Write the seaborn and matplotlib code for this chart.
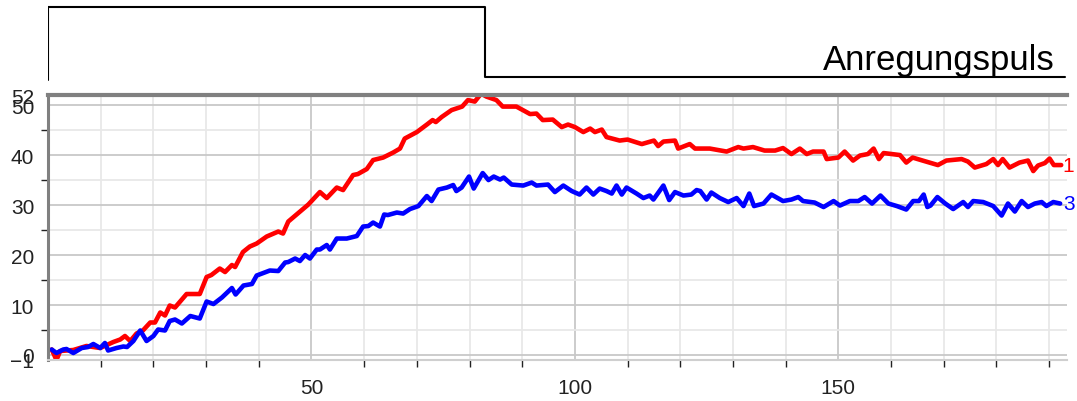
import matplotlib
matplotlib.use("Agg")
from matplotlib import pyplot as plt
import seaborn as sns
import pandas as pd

# Kurve 1 (rot)
x_rot = [0.7, 1.6, 2.3, 4.8, 7.3, 9.9, 12.4, 13.7, 14.6, 15.6, 16.8, 18.0, 19.4, 20.3, 21.3, 22.2,
         23.1, 24.1, 26.3, 28.8, 30.1, 31.0, 32.6, 33.6, 34.9, 35.5, 37.0, 38.3, 39.6, 41.5, 43.7,
         44.6, 45.6, 47.5, 49.4, 51.6, 52.9, 54.8, 56.0, 57.9, 58.8, 60.5, 61.7, 63.6, 65.5, 66.8,
         67.7, 70.0, 71.9, 73.0, 73.6, 74.7, 76.6, 78.6, 79.7, 81.0, 82.2, 83.2, 85.1, 86.3, 88.9,
         91.5, 92.7, 93.9, 95.8, 97.5, 98.7, 100.0, 101.6, 102.9, 103.8, 105.1, 106.0, 108.5, 110.0,
         112.7, 115.0, 115.8, 116.8, 119.0, 119.6, 121.8, 122.8, 125.6, 128.8, 131.0, 132.0, 133.8,
         136.0, 138.0, 139.5, 141.1, 142.7, 144.0, 145.2, 147.2, 147.8, 150.0, 151.2, 152.8, 154.1,
         155.6, 156.7, 157.7, 158.6, 161.7, 162.9, 164.1, 166.0, 168.9, 170.5, 173.4, 174.6, 175.9,
         178.1, 179.4, 180.3, 181.2, 182.5, 184.4, 186.0, 187.0, 187.9, 189.2, 190.1, 190.9, 192.3]
y_rot = [1.1, -1.0, 0.8, 1.0, 1.8, 1.4, 2.6, 3.1, 3.8, 2.8, 4.3, 4.9, 6.5, 6.5, 8.5, 7.9,
         9.9, 9.5, 12.2, 12.2, 15.6, 16.0, 17.3, 16.6, 18.0, 17.6, 20.6, 21.7, 22.3, 23.7, 24.7,
         24.3, 26.7, 28.4, 30.1, 32.6, 31.4, 33.5, 33.0, 36.0, 36.2, 37.2, 39.0, 39.5, 40.5, 41.3,
         43.3, 44.6, 46.1, 47.0, 46.6, 47.6, 49.0, 49.7, 51.0, 50.7, 52.3, 51.7, 51.0, 49.7, 49.7,
         48.2, 48.3, 47.0, 47.1, 45.6, 46.1, 45.6, 44.6, 45.3, 44.6, 45.1, 43.6, 42.9, 43.1,
         42.2, 42.9, 41.8, 42.7, 42.9, 41.3, 42.2, 41.3, 41.3, 40.7, 41.6, 41.3, 41.6,
         40.9, 40.9, 41.4, 40.2, 41.3, 40.2, 40.7, 40.7, 39.2, 39.5, 40.7, 38.9, 39.9,
         40.2, 41.3, 39.2, 40.4, 40.0, 38.5, 39.5, 38.9, 38.0, 38.9, 39.2, 38.7, 37.5,
         38.2, 39.2, 38.0, 39.2, 37.5, 38.5, 38.9, 36.8, 37.9, 38.4, 39.3, 38.0, 38.0]

# Kurve 3 (blau)
x_blau = [0.7, 1.6, 2.9, 3.5, 4.8, 6.4, 7.6, 8.6, 9.9, 10.8, 11.4, 13.0, 14.3, 15.0, 16.2, 17.5,
          18.7, 20.0, 20.9, 22.2, 23.1, 24.1, 25.4, 27.0, 28.8, 30.1, 31.4, 33.0, 34.9, 35.6, 37.1,
          38.7, 39.6, 42.1, 43.7, 45.0, 45.6, 46.9, 47.8, 48.8, 49.7, 51.0, 51.6, 52.9, 53.5, 54.8,
          56.7, 58.6, 59.8, 60.8, 61.7, 63.0, 63.8, 64.5, 66.2, 67.4, 68.7, 70.3, 71.9, 72.8, 74.1,
          75.7, 76.9, 77.5, 78.5, 79.9, 80.8, 82.5, 83.6, 84.6, 85.8, 86.5, 88.0, 90.2, 91.8, 92.7,
          94.9, 96.2, 97.8, 99.4, 100.9, 102.2, 103.5, 104.7, 106.0, 107.0, 107.9, 108.9, 109.8,
          111.7, 113.0, 114.2, 114.9, 116.8, 117.9, 119.0, 120.6, 122.1, 123.1, 123.8, 125.0, 125.9,
          127.5, 129.1, 130.7, 132.0, 133.1, 134.0, 135.8, 137.3, 139.5, 141.1, 142.4, 143.3, 145.5,
          147.2, 149.1, 150.3, 152.2, 153.8, 155.0, 156.4, 158.0, 159.5, 161.1, 162.9, 164.2, 165.3,
          166.2, 166.9, 167.5, 168.8, 170.3, 171.8, 173.7, 174.6, 175.6, 177.5, 179.4, 181.0, 182.2,
          183.5, 184.8, 186.0, 187.3, 188.6, 189.5, 190.8, 192.1]
y_blau = [1.1, 0.4, 1.1, 1.2, 0.4, 1.4, 1.6, 2.2, 1.4, 2.4, 0.9, 1.4, 1.7, 1.6, 2.8, 4.9,
          2.8, 3.8, 5.1, 4.9, 6.8, 7.1, 6.3, 7.8, 7.3, 10.7, 10.2, 11.5, 13.4, 12.1, 13.9,
          14.2, 15.9, 16.9, 16.8, 18.5, 18.6, 19.3, 18.8, 20.0, 19.3, 21.1, 21.1, 22.0, 21.1, 23.3,
          23.3, 23.8, 25.7, 25.8, 26.5, 25.7, 28.1, 28.0, 28.5, 28.3, 29.2, 29.8, 31.8, 30.8, 33.1,
          33.5, 34.0, 32.8, 33.5, 35.7, 33.3, 36.4, 35.0, 35.7, 35.1, 35.5, 34.1, 33.9, 34.5, 33.9,
          34.1, 32.6, 33.9, 32.8, 32.1, 33.5, 32.1, 33.3, 32.8, 32.3, 33.9, 32.1, 33.5,
          32.3, 31.4, 31.9, 31.1, 33.9, 31.0, 32.6, 31.9, 32.1, 33.0, 32.8, 31.1, 32.5,
          31.4, 30.6, 31.4, 29.8, 32.3, 29.8, 30.3, 32.1, 30.8, 31.1, 31.6, 30.8, 30.5,
          29.6, 30.8, 29.9, 30.8, 30.8, 31.6, 30.3, 31.9, 30.3, 29.8, 29.1, 30.8, 30.8,
          32.1, 29.6, 29.9, 31.6, 30.3, 29.2, 30.6, 29.6, 30.8, 30.6, 29.8, 27.9, 30.3,
          28.7, 30.8, 29.6, 30.3, 30.6, 29.8, 30.6, 30.3]

# Anregungspuls (an / aus)
puls_x = [0, 0, 82.9, 82.9, 193.0]
puls_y = [-0.04, 1, 1, 0, 0]

y_ticks = [-1, 0, 10, 20, 30, 40, 50, 52]
y_minor = [5, 15, 25, 35, 45]
x_ticks = [50, 100, 150]
x_minor = list(range(10, 200, 10))
x_lim = (0, 193.4)

sns.set_style("white")
plt.rcParams["font.family"] = ["Liberation Sans", "DejaVu Sans"]

fig = plt.figure(figsize=(10.77, 4.02), dpi=100)

# oberes Feld mit dem Puls
ax_p = fig.add_axes([0.0446, 1 - 90 / 402, 0.9461, 90 / 402])
sns.lineplot(x=puls_x, y=puls_y, ax=ax_p, color="black", linewidth=1.5, sort=False, estimator=None)
ax_p.set_xlim(*x_lim)
ax_p.set_ylim(-0.171, 1.114)
ax_p.axis("off")
ax_p.text(0.988, 0.222, "Anregungspuls", transform=ax_p.transAxes, ha="right", va="baseline",
          fontsize=25, color="black")

# Hauptdiagramm
ax = fig.add_axes([0.0446, 0.102, 0.9461, 0.659])
df_rot = pd.DataFrame({"x": x_rot, "y": y_rot})
df_blau = pd.DataFrame({"x": x_blau, "y": y_blau})
sns.lineplot(data=df_rot, x="x", y="y", ax=ax, color="#ff0000", linewidth=3.3, sort=False, estimator=None)
sns.lineplot(data=df_blau, x="x", y="y", ax=ax, color="#0000ff", linewidth=3.3, sort=False, estimator=None)

ax.set_xlim(*x_lim)
ax.set_ylim(-1, 52)
ax.set_yticks(y_ticks)
ax.set_yticks(y_minor, minor=True)
ax.set_xticks(x_ticks)
ax.set_xticks(x_minor, minor=True)
ax.set_xlabel("")
ax.set_ylabel("")
ax.tick_params(axis="both", which="major", labelsize=15, colors="#222222", direction="out")
ax.tick_params(axis="y", which="major", length=8.5, width=1.2, pad=1.5)
ax.tick_params(axis="y", which="minor", length=5, width=1.0, left=True, color="#222222")
ax.tick_params(axis="x", which="major", length=8, width=1.2, pad=5)
ax.tick_params(axis="x", which="minor", length=5, width=1.0, bottom=True, color="#222222")

ax.grid(which="major", color="#c8c8c8", linewidth=1.3)
ax.grid(which="minor", color="#e8e8e8", linewidth=1.3)
ax.set_axisbelow(True)

ax.spines["top"].set(color="#808080", linewidth=3)
ax.spines["left"].set(color="#808080", linewidth=2.2)
ax.spines["bottom"].set(color="#cfcfcf", linewidth=1.5)
ax.spines["right"].set_visible(False)

# Kurvennummern am rechten Rand
ax.text(192.6, y_rot[-1], "1", color="#ff0000", fontsize=15, ha="left", va="center", clip_on=False)
ax.text(192.6, y_blau[-1], "3", color="#0000ff", fontsize=15, ha="left", va="center", clip_on=False)

fig.savefig("out.png", dpi=100)
